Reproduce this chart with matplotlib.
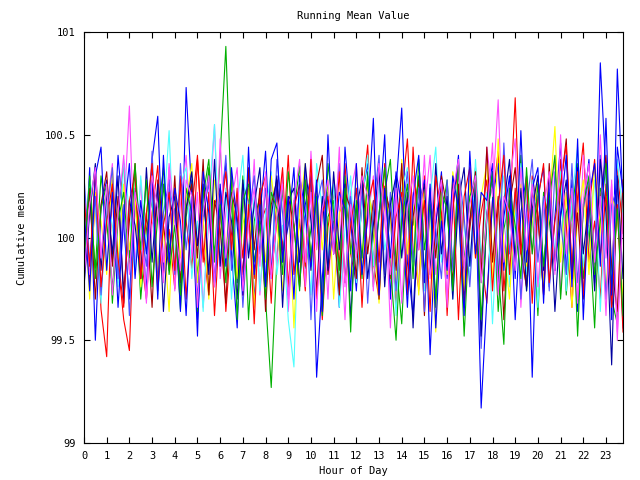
import numpy as np
import matplotlib
matplotlib.use("Agg")
import matplotlib.pyplot as plt

# valeurs : écart à 100, en centièmes, un point tous les quarts d'heure
base = 100.0
unite = 0.01
heures = np.arange(96) * 0.25

red1 = [10, -22, 18, -35, -58, 28, -12, -40, -55, 22, -8, -30, 12, 35, -18, 4,
        -25, 30, 8, -15, 38, -5, -28, 16, 24, -36, 2, 19, -10, 33, -20, 6,
        14, -32, 27, -6, 40, -18, 9, -26, 31, 12, -40, 5, 22, -14, 36, -8,
        -22, 18, 45, -12, -30, 25, 10, -34, 20, 48, -6, -25, 30, -16, 8, 26,
        -38, 14, 35, -20, 4, 28, -10, -32, 18, 42, -26, 10, 68, -8, -24, 30,
        12, -28, 22, -14, 38, 6, -34, 20, 46, -12, 8, -30, 26, -18, 34, 2]
green1 = [5, 20, -15, 30, 8, -25, 12, 36, -10, 22, -30, 4, 18, -20, 26, -6,
          14, -35, 10, 28, -18, 6, 34, -12, 40, 93, 15, -22, 30, -40, 8, 20,
          -30, -73, -10, 24, -28, 12, 35, -15, 4, 26, -38, 10, 18, -24, 30, -8,
          16, -20, 32, 2, -26, 22, 38, -12, -42, 14, 6, 30, -18, 24, -34, 10,
          28, -14, 20, -48, 8, 34, -22, 12, 26, -36, 4, 18, -10, 40, -26, 14,
          -38, 22, 8, -16, 30, -28, 12, 36, -20, 6, -44, 24, 16, -30, -42, 20]
blue1 = [-20, 34, -50, 15, 28, -12, 40, 6, -30, 22, 10, -26, 38, 59, -16, 24,
         12, -36, 73, 20, -40, 8, 30, -22, 14, 36, -8, -44, 26, 18, -30, 10,
         42, -18, 28, -10, 6, 34, -24, 16, 30, -68, -20, 22, 12, -34, 44, 8,
         -26, 20, 36, -14, 10, 50, -30, 24, 63, -12, -38, 16, 28, -57, 6, 32,
         -20, 14, 40, -28, 8, 22, -83, -30, 18, 36, -16, 26, -40, 12, 30, -68,
         20, 34, -24, 10, 46, -18, 28, -36, 14, 38, -22, 85, 30, -40, 82, 16]
magenta1 = [25, -18, 30, -8, 14, 36, -22, 10, 64, -15, 28, -30, 6, 20, -12, 34,
            -26, 16, 40, -10, 22, -34, 8, 55, -20, 12, 30, -16, 24, -8, 38, -28,
            10, 26, -14, 32, -36, 4, 20, -24, 42, -6, 18, -30, 28, 14, -40, 22,
            36, -12, 8, 30, -20, 24, -44, 16, 34, -8, 22, -26, 12, 40, -18, 6,
            -30, 28, 14, -22, 36, 10, -16, 44, 20, 67, -12, 26, 48, -34, 16, -8,
            30, -20, 12, 38, -28, 22, 6, -32, 40, 14, -18, 50, -10, 26, -50, 18]
cyan1 = [-10, 28, 15, -32, 20, 6, -24, 38, 12, -18, 30, -6, 22, -28, 10, 52,
         -14, 26, 34, -20, 8, -36, 18, 55, -12, 24, -30, 16, 40, -8, 20, -26,
         12, 32, -18, 6, -40, -63, 22, 10, -28, 36, 14, -10, 26, -34, 4, 30,
         -22, 18, 40, -14, 28, -6, 10, -38, 24, 34, -16, 8, -26, 20, 44, -12,
         16, -30, 26, 6, -20, 38, -10, 22, -42, 14, 30, -24, 10, 36, -18, 28,
         -34, 12, 24, -8, 32, -26, 18, 44, -14, 6, 28, -36, 20, -22, 38, 10]
yellow1 = [15, -30, 22, 8, -18, 34, -12, 26, -6, 20, -24, 12, 30, -16, 4, -36,
           24, -10, 18, 36, -22, 10, -30, 28, 14, -8, 32, -20, 6, 24, -34, 16,
           -12, 30, 8, -26, 20, -44, 14, 36, -16, 22, -6, 28, -30, 12, 18, -20,
           34, -14, 26, 6, -32, 20, 10, -24, 38, -8, 16, -28, 24, 4, -46, 22,
           -18, 32, 12, -26, 28, -10, 20, 36, -22, 48, -4, -30, 18, 26, -14, 8,
           30, -24, 16, 54, -12, 22, -34, 10, 28, -18, 36, 6, -26, 20, 12, -30]
darkred1 = [-8, 24, -30, 16, 32, -14, 20, -26, 8, 36, -20, 12, -34, 28, 6, -16,
            30, -22, 14, 26, -10, 38, -28, 18, 4, -32, 22, 10, -18, 34, -6, 24,
            -36, 16, 28, -12, 20, 6, -24, 32, -14, 26, 40, -18, 8, -28, 22, 14,
            -20, 34, -8, 18, -30, 24, 12, -16, 36, -26, 10, 28, -38, 20, -10, 30,
            14, -22, 26, -34, 8, 32, -18, 44, -12, 20, -40, 16, 34, -6, -24, 22,
            10, -28, 36, -16, 24, 48, -20, 12, -30, 26, -8, 18, 40, -14, -36, 28]
slate1 = [30, -12, 20, -28, 10, 34, -20, 16, -38, 24, 6, -14, 42, -22, 12, 28,
          -18, 36, -6, 22, -30, 14, 26, -24, 8, 40, -16, 20, -34, 10, 30, -8,
          24, -20, 38, 12, -28, 18, -10, 34, -40, 16, 28, -14, 6, 36, -22, 20,
          -6, 26, -32, 14, 40, -18, 22, -26, 10, 32, -12, 24, -36, 18, 4, -20,
          28, -16, 34, 10, -24, 20, -54, 12, 30, -20, 46, -8, 22, -30, 14, 38,
          -12, 20, -26, 32, 8, -18, 36, -22, 14, 28, -10, 40, -30, 16, 24, -44]
navy1 = [-24, 12, 36, -16, 22, -8, 30, -32, 18, 6, -20, 34, -12, 26, -36, 10,
         20, -28, 14, 32, -4, 26, -18, 38, -14, 22, 8, -30, 28, -10, 16, 34,
         -22, 10, 30, -34, 18, 24, -12, 36, 8, -26, 20, -16, 32, -6, 26, -40,
         14, 28, -20, 6, 34, -24, 16, 30, -10, 22, -44, 12, 26, -18, 36, -8,
         20, -30, 18, 34, -14, 26, -48, 10, 32, -22, 16, 38, -12, 24, -26, 14,
         30, -16, 22, -36, 10, 28, -20, 34, -8, 18, -26, 38, 12, -62, 30, -20]
red2 = [20, -14, 32, -24, 8, 26, -10, -34, 18, 30, -20, 12, 36, -26, 6, 22,
        -16, 28, -30, 14, 40, -12, 22, -38, 10, 32, -6, 24, -28, 16, -42, 20,
        30, -18, 8, 34, -24, 14, 26, -14, 38, -30, 12, 20, -8, 32, -22, 6,
        24, -34, 16, 28, -12, 36, -20, 10, 22, -28, 44, -6, 18, -36, 30, 12,
        -14, 26, -40, 20, 34, -10, 12, 28, -26, 16, 40, -18, 24, -8, 30, -32,
        18, 36, -22, 8, 26, 45, -16, 32, -28, 14, 38, -10, 22, -34, 16, -46]
green2 = [-12, 30, -20, 14, 26, -32, 8, 22, -16, 36, -6, 28, -24, 10, 34, -18,
          6, -28, 24, 12, -36, 20, 38, -8, 16, -22, 30, -40, 18, 26, -12, 8,
          -30, 22, 14, -18, 32, 6, -26, 28, -10, 20, -34, 36, 12, -16, 24, -46,
          18, -10, 30, -24, 12, 34, -14, -50, 8, 26, -20, 38, -6, 16, -30, 22,
          14, -26, 36, -12, 20, 28, -40, 10, 32, -16, -52, 24, 6, -20, 34, -8,
          26, -14, 18, 40, -30, 12, 22, -48, 16, 30, -18, 8, 36, -24, 14, -38]
blue2 = [14, -26, 30, 44, -16, 22, -34, 10, 36, -20, 18, -8, 28, -30, 40, -12,
         24, 8, -38, 20, -48, 32, 12, -22, 26, -14, 34, 6, -28, 44, -18, 16,
         -24, 38, 46, -12, 20, -30, 30, 12, -16, 28, -36, 50, -8, 22, 14, -26,
         36, -18, 10, 58, -28, 24, -10, 32, 16, -34, 20, 40, -22, 26, -44, 8,
         -16, 30, 14, -38, 42, -8, 22, 18, 36, -26, 10, 30, -20, 52, -12, 24,
         34, -32, 28, -16, 12, 40, -24, 48, -40, 20, 36, -14, 58, -28, 44, 22]
magenta2 = [-20, 16, 34, -10, 26, -28, 12, 40, -18, 22, 6, -32, 30, 14, -22, 36,
            8, -16, 28, 20, -34, 12, 30, -24, 48, -10, 18, 34, -26, 6, 24, -14,
            32, -20, 10, 26, -30, 18, 38, -12, 22, -36, 14, 28, -8, 44, -24, 16,
            -10, 30, 20, -26, 36, 8, -18, 24, -32, 14, 30, -6, 40, -20, 12, 28,
            -34, 22, 38, -14, 16, 30, -22, 10, 46, -28, 20, 12, -16, 34, -6, 26,
            -24, 14, 32, -18, 50, -8, 24, -30, 18, 36, -12, 20, -38, 28, -46, 12]

series = [red1, green1, blue1, magenta1, cyan1, yellow1, darkred1, slate1, navy1,
          red2, green2, blue2, magenta2]
couleurs = ['#ff0000', '#00b000', '#0000ff', '#ff50ff', '#50ffff', '#ffff00',
            '#a00000', '#5050ff', '#0000a0', '#ff0000', '#00b000', '#0000ff', '#ff50ff']

plt.rcParams['font.family'] = ['DejaVu Sans Mono']
fig = plt.figure(figsize=(6.4, 4.8), dpi=100)
ax = fig.add_axes([84/640, 37/480, 539/640, 411/480])

for s, c in zip(series, couleurs):
    ax.plot(heures[:len(s)], base + np.array(s) * unite, '-', color=c, lw=0.8)

ax.set_xlim(0, 23.75)
ax.set_ylim(99, 101)
ax.set_xticks(range(24))
ax.set_yticks([99, 99.5, 100, 100.5, 101])
ax.set_yticklabels(['99', '99.5', '100', '100.5', '101'])
ax.tick_params(direction='in', length=4.5, width=0.8, top=True, right=True,
               labelsize=7.5, pad=6)
for sp in ax.spines.values():
    sp.set_linewidth(0.8)

fig.text(353/640, 1 - 16/480, "Running Mean Value", ha='center', va='center', fontsize=7.5)
fig.text(353/640, 1 - 471/480, "Hour of Day", ha='center', va='center', fontsize=7.5)
fig.text(22/640, 1 - 238/480, "Cumulative mean", ha='center', va='center',
         rotation=90, fontsize=7.5)

fig.savefig("out.png", dpi=100)
